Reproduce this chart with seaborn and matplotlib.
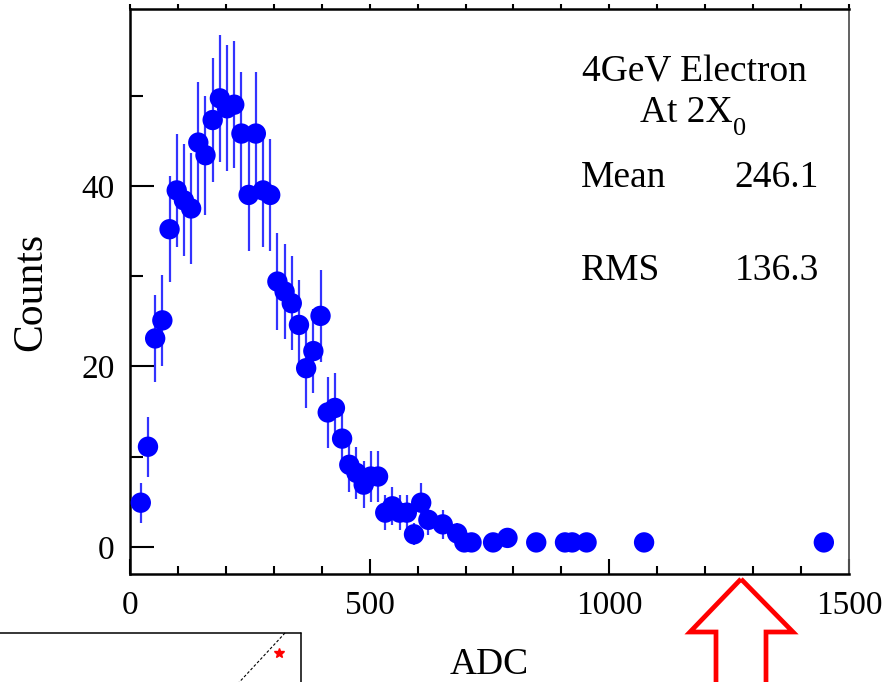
import numpy as np
import pandas as pd
import matplotlib
matplotlib.use("Agg")
import matplotlib.pyplot as plt
from matplotlib.patches import Polygon
from matplotlib.lines import Line2D
from matplotlib.ticker import MultipleLocator, FixedLocator
import seaborn as sns

# ADC spectrum of 4 GeV electrons behind 2 radiation lengths (15 ADC bins)
adc = [22.5, 37.5, 52.5, 67.5, 82.5, 97.5, 112.5, 127.5, 142.5, 157.5,
       172.5, 187.5, 202.5, 217.5, 232.5, 247.5, 262.5, 277.5, 292.5, 307.5,
       322.5, 337.5, 352.5, 367.5, 382.5, 397.5, 412.5, 427.5, 442.5, 457.5,
       472.5, 487.5, 502.5, 517.5, 532.5, 547.5, 562.5, 577.5, 592.5, 607.5,
       622.5, 652.5, 682.5, 697.5, 712.5, 757.5, 787.5, 847.5, 907.5, 922.5,
       952.5, 1072.5, 1447.5]
counts = [4.9, 11.1, 23.1, 25.1, 35.2, 39.5, 38.4, 37.5, 44.8, 43.4,
          47.3, 49.7, 48.6, 49.0, 45.8, 39.0, 45.8, 39.5, 39.0, 29.4,
          28.3, 27.0, 24.6, 19.8, 21.7, 25.6, 14.9, 15.4, 12.0, 9.1,
          8.2, 6.9, 7.8, 7.8, 3.8, 4.5, 3.8, 3.8, 1.4, 4.9,
          3.0, 2.5, 1.5, 0.5, 0.5, 0.5, 1.0, 0.5, 0.5, 0.5,
          0.5, 0.5, 0.5]
count_err = [2.2, 3.3, 4.8, 5.0, 5.9, 6.3, 6.2, 6.1, 6.7, 6.6,
             6.9, 7.0, 7.0, 7.0, 6.8, 6.2, 6.8, 6.3, 6.2, 5.4,
             5.3, 5.2, 5.0, 4.4, 4.7, 5.1, 3.9, 3.9, 3.5, 3.0,
             2.9, 2.6, 2.8, 2.8, 1.9, 2.1, 1.9, 1.9, 1.2, 2.2,
             1.7, 1.6, 1.2, 0.7, 0.7, 0.7, 1.0, 0.7, 0.7, 0.7,
             0.7, 0.7, 0.7]

x_major = [0, 500, 1000, 1500]
y_major = [0, 20, 40]
title_line = "4GeV Electron"
depth_text, depth_sub = "At 2X", "0"
stat_names = ["Mean", "RMS"]
stat_values = ["246.1", "136.3"]

df = pd.DataFrame({"ADC": adc, "Counts": counts, "err": count_err})

sns.set_style("ticks")
plt.rcParams["font.family"] = ["Liberation Serif", "DejaVu Serif"]
for key in ("text.color", "axes.labelcolor", "xtick.color", "ytick.color",
            "xtick.labelcolor", "ytick.labelcolor"):
    plt.rcParams[key] = "black"

W, H = 895, 682
fig = plt.figure(figsize=(W / 100, H / 100), dpi=100)
fig.patch.set_facecolor("white")
ax = fig.add_axes([130 / W, 1 - 574 / H, 719 / W, 565 / H])
ax.set_facecolor("white")

ax.errorbar(df["ADC"], df["Counts"], yerr=df["err"], fmt="none",
            ecolor="#0000ff", elinewidth=1.6, alpha=0.8, capsize=0, zorder=2)
sns.scatterplot(data=df, x="ADC", y="Counts", ax=ax, color="#0000ff",
                s=215, edgecolor="none", linewidth=0, zorder=3, legend=False)

ax.set_xlim(0, 1500)
ax.set_ylim(-3, 59.6)

ax.xaxis.set_major_locator(FixedLocator(x_major))
ax.xaxis.set_minor_locator(MultipleLocator(100))
ax.yaxis.set_major_locator(FixedLocator(y_major))
ax.yaxis.set_minor_locator(MultipleLocator(10))

ax.tick_params(axis="x", which="major", direction="in", length=11, width=1.5,
               labelsize=24, pad=12, top=False)
ax.tick_params(axis="x", which="minor", direction="in", length=5.8, width=1.5,
               top=False)
ax.tick_params(axis="y", which="major", direction="in", length=17.5, width=1.5,
               labelsize=24, pad=11, right=False)
ax.tick_params(axis="y", which="minor", direction="in", length=9.5, width=1.5,
               right=False)

for side in ("left", "bottom", "top"):
    ax.spines[side].set_color("black")
    ax.spines[side].set_linewidth(1.8)
ax.spines["right"].set_color("#555555")
ax.spines["right"].set_linewidth(1.3)

# short outward ticks along the upper frame
sec = ax.secondary_xaxis("top")
sec.xaxis.set_major_locator(MultipleLocator(100))
sec.tick_params(axis="x", which="major", direction="out", length=3.5,
                width=1.5, labeltop=False)
sec.spines["top"].set_visible(False)

ax.set_xlabel("ADC", fontsize=27)
ax.set_ylabel("Counts", fontsize=30)
ax.xaxis.label.set_va("center")
ax.yaxis.label.set_va("center")
ax.xaxis.set_label_coords(0.5, -0.161)
ax.yaxis.set_label_coords(-0.138, 0.5)

# run description and statistics
ax.text(0.7855, 0.8713, title_line, transform=ax.transAxes, fontsize=27,
        ha="center", va="baseline")
ax.text(0.8387, 0.8005, depth_text, transform=ax.transAxes, fontsize=27,
        ha="right", va="baseline")
ax.text(0.8380, 0.7770, depth_sub, transform=ax.transAxes, fontsize=19,
        ha="left", va="baseline")
for name, val, yb in zip(stat_names, stat_values, [0.6855, 0.5204]):
    ax.text(0.6267, yb, name, transform=ax.transAxes, fontsize=27,
            ha="left", va="baseline")
    ax.text(0.9582, yb, val, transform=ax.transAxes, fontsize=27,
            ha="right", va="baseline")


def fxy(px, py):
    return (px / W, 1 - py / H)


# hollow red arrow below the axis
arrow_px = [(741, 579), (793, 632), (766, 632), (766, 700),
            (716, 700), (716, 632), (690, 632)]
arrow = Polygon([fxy(*p) for p in arrow_px], closed=True, fill=False,
                edgecolor="#ff0000", linewidth=3.4, joinstyle="miter",
                transform=fig.transFigure, clip_on=False, zorder=5)
fig.add_artist(arrow)

# corner of a neighbouring panel
fig.add_artist(Line2D([fxy(-5, 633)[0], fxy(301, 633)[0]],
                      [fxy(-5, 633)[1], fxy(301, 633)[1]],
                      transform=fig.transFigure, color="black", lw=1.1))
fig.add_artist(Line2D([fxy(301, 633)[0], fxy(301, 690)[0]],
                      [fxy(301, 633)[1], fxy(301, 690)[1]],
                      transform=fig.transFigure, color="black", lw=1.1))
fig.add_artist(Line2D([fxy(285, 633)[0], fxy(232, 690)[0]],
                      [fxy(285, 633)[1], fxy(232, 690)[1]],
                      transform=fig.transFigure, color="black", lw=0.8,
                      linestyle=(0, (2.5, 1.8))))
fig.add_artist(Line2D([fxy(279, 653)[0]], [fxy(279, 653)[1]],
                      transform=fig.transFigure, marker="*", color="#ff0000",
                      markersize=7, linestyle="none"))

fig.savefig("out.png", dpi=100, facecolor="white")
